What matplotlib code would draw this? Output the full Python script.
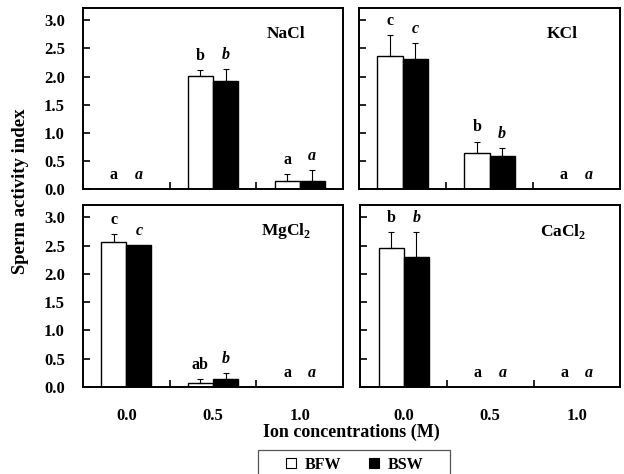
import matplotlib
matplotlib.use("Agg")
import matplotlib.pyplot as plt
import numpy as np
from matplotlib.lines import Line2D
from matplotlib.patches import Rectangle

plt.rcParams['font.family'] = ['Liberation Serif', 'DejaVu Serif']
plt.rcParams['font.weight'] = 'bold'
plt.rcParams['mathtext.fontset'] = 'custom'
plt.rcParams['mathtext.rm'] = 'Liberation Serif:bold'
plt.rcParams['mathtext.bf'] = 'Liberation Serif:bold'

concentrations = ['0.0', '0.5', '1.0']
series_names = ['BFW', 'BSW']

nacl_bfw = [0.0, 2.01, 0.14]
nacl_bfw_err = [0.0, 0.10, 0.12]
nacl_bsw = [0.0, 1.92, 0.15]
nacl_bsw_err = [0.0, 0.22, 0.18]
nacl_bfw_letters = ['a', 'b', 'a']
nacl_bsw_letters = ['a', 'b', 'a']

kcl_bfw = [2.37, 0.645, 0.0]
kcl_bfw_err = [0.37, 0.20, 0.0]
kcl_bsw = [2.31, 0.59, 0.0]
kcl_bsw_err = [0.28, 0.14, 0.0]
kcl_bfw_letters = ['c', 'b', 'a']
kcl_bsw_letters = ['c', 'b', 'a']

mgcl2_bfw = [2.57, 0.07, 0.0]
mgcl2_bfw_err = [0.14, 0.07, 0.0]
mgcl2_bsw = [2.51, 0.15, 0.0]
mgcl2_bsw_err = [0.0, 0.10, 0.0]
mgcl2_bfw_letters = ['c', 'ab', 'a']
mgcl2_bsw_letters = ['c', 'b', 'a']

cacl2_bfw = [2.46, 0.0, 0.0]
cacl2_bfw_err = [0.28, 0.0, 0.0]
cacl2_bsw = [2.30, 0.0, 0.0]
cacl2_bsw_err = [0.44, 0.0, 0.0]
cacl2_bfw_letters = ['b', 'a', 'a']
cacl2_bsw_letters = ['b', 'a', 'a']

panels = [
    ('NaCl', nacl_bfw, nacl_bfw_err, nacl_bsw, nacl_bsw_err, nacl_bfw_letters, nacl_bsw_letters),
    ('KCl', kcl_bfw, kcl_bfw_err, kcl_bsw, kcl_bsw_err, kcl_bfw_letters, kcl_bsw_letters),
    (r'MgCl$_{2}$', mgcl2_bfw, mgcl2_bfw_err, mgcl2_bsw, mgcl2_bsw_err, mgcl2_bfw_letters, mgcl2_bsw_letters),
    (r'CaCl$_{2}$', cacl2_bfw, cacl2_bfw_err, cacl2_bsw, cacl2_bsw_err, cacl2_bfw_letters, cacl2_bsw_letters),
]

W, H = 624, 474
fig = plt.figure(figsize=(W / 100, H / 100), dpi=100)

# axes rectangles in pixels: left, top, right, bottom
rects = [(83, 8, 343, 189), (359, 8, 620, 189), (83, 205, 343, 387), (360.5, 205, 620, 387)]

bw = 0.29
x = np.arange(len(concentrations))
for i, (rect, panel) in enumerate(zip(rects, panels)):
    l, t, r, b = rect
    ax = fig.add_axes([l / W, 1 - b / H, (r - l) / W, (b - t) / H])
    name, v1, e1, v2, e2, L1, L2 = panel
    ax.bar(x - bw / 2, v1, bw, color='white', edgecolor='black', linewidth=1.0, zorder=2)
    ax.bar(x + bw / 2, v2, bw, color='black', edgecolor='black', linewidth=1.0, zorder=2)
    for xs, vals, errs in ((x - bw / 2, v1, e1), (x + bw / 2, v2, e2)):
        for xi, vi, ei in zip(xs, vals, errs):
            if ei > 0:
                ax.errorbar(xi, vi, yerr=[[0], [ei]], fmt='none', ecolor='black',
                            elinewidth=0.8, capsize=2.5, capthick=0.8, zorder=3)
    for xs, vals, errs, labs, style in ((x - bw / 2, v1, e1, L1, 'normal'),
                                        (x + bw / 2, v2, e2, L2, 'italic')):
        for xi, vi, ei, lab in zip(xs, vals, errs, labs):
            ax.text(xi, vi + ei + 0.25, lab, ha='center', va='center',
                    fontsize=11.5, fontweight='bold', fontstyle=style)
    ax.text(0.78, 0.855, name, transform=ax.transAxes, ha='center', va='center',
            fontsize=12.5, fontweight='bold')
    ax.set_xlim(-0.5, 2.5)
    ax.set_ylim(0, 3.22)
    ax.set_yticks(np.arange(0, 3.01, 0.5))
    ax.set_xticks(x)
    ax.set_xticks([0.5, 1.5], minor=True)
    ax.tick_params(axis='x', which='major', length=0, pad=15, labelsize=12)
    ax.tick_params(axis='x', which='minor', direction='in', length=5, width=1.2)
    ax.tick_params(axis='y', direction='in', length=5, width=1.2, labelsize=12, pad=13)
    if i >= 2:
        ax.set_xticklabels(concentrations)
    else:
        ax.set_xticklabels([])
    if i % 2 == 0:
        ax.set_yticklabels(['%.1f' % v for v in np.arange(0, 3.01, 0.5)])
    else:
        ax.set_yticklabels([])
    for s in ax.spines.values():
        s.set_linewidth(1.4)
    for lab in ax.get_xticklabels() + ax.get_yticklabels():
        lab.set_fontweight('bold')

fig.text(21 / W, 1 - 191.5 / H, 'Sperm activity index', rotation=90, ha='center', va='center',
         fontsize=13.5, fontweight='bold')
fig.text(351 / W, 1 - 432 / H, 'Ion concentrations (M)', ha='center', va='center',
         fontsize=13, fontweight='bold')

handles = [Line2D([], [], marker='s', linestyle='none', markersize=7.2, markerfacecolor='white',
                  markeredgecolor='black', markeredgewidth=0.8),
           Line2D([], [], marker='s', linestyle='none', markersize=7.2, markerfacecolor='black',
                  markeredgecolor='black', markeredgewidth=0.8)]
fig.legend(handles, series_names, loc='center', bbox_to_anchor=(354 / W, 1 - 465 / H),
           ncol=2, frameon=False, handlelength=0.8, handletextpad=0.5, columnspacing=1.6,
           prop={'family': 'Liberation Serif', 'weight': 'bold', 'size': 11.5})
fig.patches.append(Rectangle((257.5 / W, -0.05), (449.5 - 257.5) / W, 0.05 + 1 - 450.5 / H,
                             transform=fig.transFigure, fill=False, edgecolor='#555555',
                             linewidth=0.9))

fig.savefig('out.png', dpi=100)
